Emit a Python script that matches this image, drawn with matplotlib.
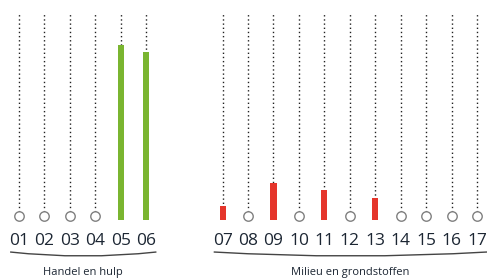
import matplotlib
matplotlib.use("Agg")
import matplotlib.pyplot as plt
from matplotlib.patches import PathPatch
from matplotlib.path import Path
import numpy as np

# categories and values (bar heights, arbitrary units)
codes_left = ['01', '02', '03', '04', '05', '06']
values_left = [0, 0, 0, 0, 175, 168]
codes_right = ['07', '08', '09', '10', '11', '12', '13', '14', '15', '16', '17']
values_right = [14, 0, 37, 0, 30, 0, 22, 0, 0, 0, 0]
group_names = ['Handel en hulp', 'Milieu en grondstoffen']
group_colors = ['#7ab530', '#e5352b']

plt.rcParams['font.family'] = ['Open Sans', 'DejaVu Sans']

fig = plt.figure(figsize=(4.87, 2.8), dpi=100)
ax = fig.add_axes([0, 0, 1, 1])
ax.set_xlim(-0.747, 18.39)
ax.set_ylim(-60, 220)
ax.axis('off')

top = 206
gap = 3
groups = [(codes_left, values_left, 0), (codes_right, values_right, len(codes_left) - 1 + gap)]
for gi, (codes, vals, start) in enumerate(groups):
    xs = start + np.arange(len(codes))
    for x, c, v in zip(xs, codes, vals):
        ax.plot([x, x], [4, top], ls=(0, (1, 2.0)), color='#222222', lw=1.0, zorder=1)
        if v > 0:
            ax.bar(x, v, width=0.24, color=group_colors[gi], zorder=2)
        else:
            ax.plot(x, 4, 'o', ms=6.8, mfc='white', mec='#808080', mew=1.0, zorder=3)
        ax.text(x, -21, c, ha='center', va='center', fontsize=12.5, color='#1c2633')
    # brace-like curve under group
    x0, x1 = xs[0] - 0.35, xs[-1] + 0.4
    xm = (x0 + x1) / 2
    path = Path([(x0, -32), (xm, -40), (x1, -32)], [Path.MOVETO, Path.CURVE3, Path.CURVE3])
    ax.add_patch(PathPatch(path, fc='none', ec='#444444', lw=1.0))
    ax.text(xm, -53, group_names[gi], ha='center', va='center', fontsize=8, color='#1c2633')

fig.savefig('out.png', dpi=100)
